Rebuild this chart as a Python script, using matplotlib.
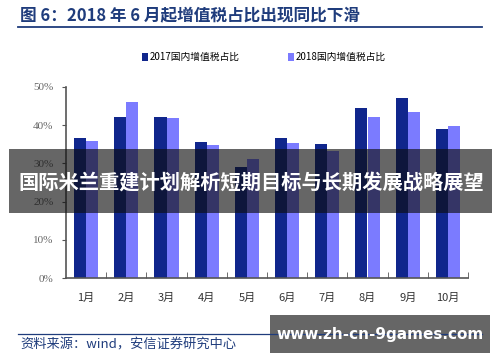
import matplotlib.pyplot as plt
from matplotlib.patches import Rectangle
import numpy as np

plt.rcParams['font.family'] = ['Noto Sans CJK SC', 'DejaVu Sans']

months = ['1月', '2月', '3月', '4月', '5月', '6月', '7月', '8月', '9月', '10月']
share_2017 = [36.6, 42.1, 42.1, 35.5, 29.1, 36.6, 35.2, 44.4, 47.2, 39.0]
share_2018 = [35.9, 46.0, 41.8, 34.9, 31.2, 35.3, 33.2, 42.1, 43.5, 39.7]
yticks = [0, 10, 20, 30, 40, 50]

W, H = 500, 362
fig = plt.figure(figsize=(W / 100, H / 100), dpi=100)

def fx(px):
    return px / W

def fy(py):
    return 1 - py / H

ax = fig.add_axes([fx(66), fy(278), fx(468) - fx(66), fy(87) - fy(278)])
x = np.arange(len(months))
bw = 0.3
ax.bar(x - 0.15, share_2017, width=bw, color='#10268c', label='2017国内增值税占比')
ax.bar(x + 0.15, share_2018, width=bw, color='#7b7bff', label='2018国内增值税占比')

ax.set_xlim(-0.5, len(months) - 0.5)
ax.set_ylim(0, 50)
ax.set_yticks(yticks)
ax.set_yticklabels([f'{v}%' for v in yticks], family=['Liberation Serif', 'DejaVu Sans'],
                   fontsize=8, color='#666666')
ax.set_xticks(x)
ax.set_xticklabels(months, fontsize=8, color='#333333')
ax.tick_params(axis='x', which='major', length=0, pad=11)
ax.set_xticks(np.arange(0.5, len(months), 1), minor=True)
ax.tick_params(axis='x', which='minor', direction='in', length=4, color='#555555')
ax.tick_params(axis='y', direction='out', length=3, color='#555555', pad=6)
for s in ['top', 'right']:
    ax.spines[s].set_visible(False)
for s in ['left', 'bottom']:
    ax.spines[s].set_color('#555555')
    ax.spines[s].set_linewidth(1.2)

# legend
handles, labels = ax.get_legend_handles_labels()
fig.legend(handles, labels, loc='center', bbox_to_anchor=(fx(264), fy(57)), ncol=2,
           frameon=False, fontsize=7, handlelength=0.6, handleheight=0.9,
           columnspacing=5.0, handletextpad=0.2)

# title and source
blue = '#1f3c7c'
fig.text(fx(20), fy(15), '图 6：2018 年 6 月起增值税占比出现同比下滑', fontsize=12,
         fontweight='bold', color=blue, va='center', ha='left')
fig.add_artist(plt.Line2D([fx(18), fx(482)], [fy(27), fy(27)], color=blue, lw=1.3))
fig.add_artist(plt.Line2D([fx(18), fx(482)], [fy(334), fy(334)], color=blue, lw=0.9))
fig.text(fx(20), fy(345), '资料来源：wind，安信证券研究中心', fontsize=9.5, style='italic',
         color=blue, va='center', ha='left')

# overlay banners
fig.add_artist(Rectangle((fx(9), fy(213)), fx(492) - fx(9), fy(149) - fy(213),
                         transform=fig.transFigure, facecolor=(0.05, 0.05, 0.05, 0.63),
                         edgecolor='none'))
fig.text(fx(251), fy(182), '国际米兰重建计划解析短期目标与长期发展战略展望', fontsize=14.6,
         fontweight='bold', color='white', ha='center', va='center')
fig.add_artist(Rectangle((fx(270), fy(353)), fx(490) - fx(270), fy(315) - fy(353),
                         transform=fig.transFigure, facecolor='#666666', edgecolor='none'))
fig.text(fx(380), fy(335), 'www.zh-cn-9games.com', fontsize=11, fontweight='bold',
         color='white', ha='center', va='center', family=['DejaVu Sans'])

fig.savefig('out.png', dpi=100)
